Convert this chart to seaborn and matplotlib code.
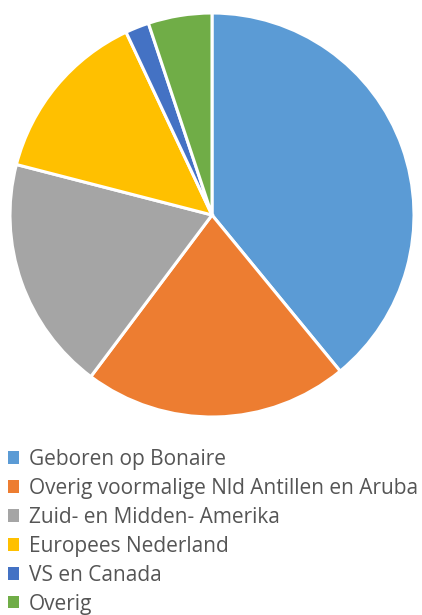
import matplotlib
matplotlib.use("Agg")
import matplotlib.pyplot as plt
import matplotlib.patches as mpatches
import seaborn as sns

sns.set_theme(style="white")
plt.rcParams['font.family'] = ['Open Sans', 'DejaVu Sans']

categories = ["Geboren op Bonaire",
              "Overig voormalige Nld Antillen en Aruba",
              "Zuid- en Midden- Amerika",
              "Europees Nederland",
              "VS en Canada",
              "Overig"]
values = [39.1, 21.2, 18.8, 14.0, 1.9, 5.1]
colors = ["#5B9BD5", "#ED7D31", "#A5A5A5", "#FFC000", "#4472C4", "#70AD47"]

W, H = 422, 615
fig = plt.figure(figsize=(W / 100, H / 100), dpi=100)
cx, cy, r = 212, 215, 202
ax = fig.add_axes([(cx - r) / W, (H - cy - r) / H, 2 * r / W, 2 * r / H])
ax.pie(values, colors=colors, startangle=90, counterclock=False, radius=1,
       wedgeprops=dict(edgecolor="white", linewidth=2.2))
ax.set_xlim(-1.0, 1.0)
ax.set_ylim(-1.0, 1.0)
ax.set_aspect("equal")
ax.axis("off")

handles = [mpatches.Patch(facecolor=c, edgecolor="none") for c in colors]
leg = fig.legend(handles, categories, loc="upper left",
                 bbox_to_anchor=(8 / W, 1 - 449 / H), frameon=False,
                 fontsize=15, handlelength=0.55, handleheight=0.55,
                 handletextpad=0.45, labelspacing=0.38, borderaxespad=0,
                 borderpad=0.0)
for t in leg.get_texts():
    t.set_color("#555555")

fig.savefig("out.png", dpi=100, facecolor="white")
